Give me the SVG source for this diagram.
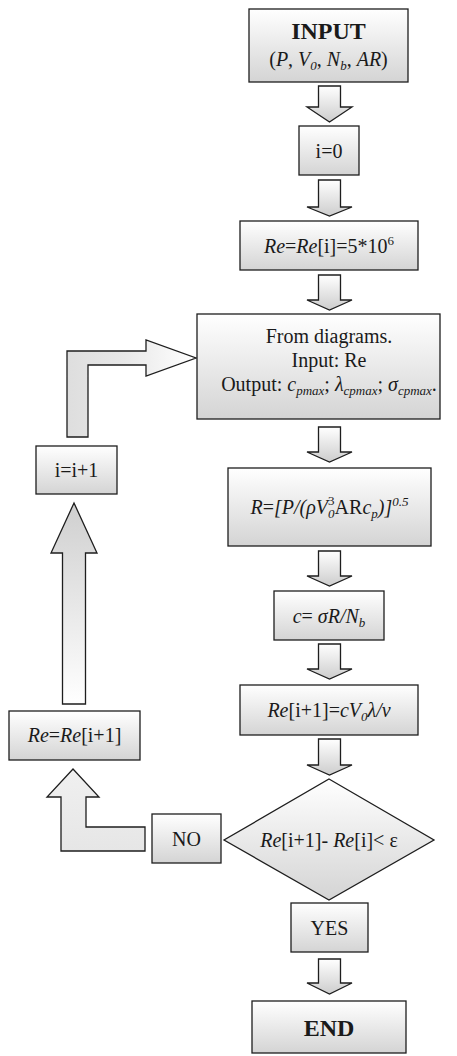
<svg xmlns="http://www.w3.org/2000/svg" width="457" height="1056" viewBox="0 0 457 1056">
  <defs>
    <linearGradient id="gBox" x1="0" y1="0" x2="0" y2="1">
      <stop offset="0" stop-color="#ffffff"/>
      <stop offset="1" stop-color="#d4d4d4"/>
    </linearGradient>
    <linearGradient id="gDown" x1="0" y1="0" x2="0" y2="1">
      <stop offset="0" stop-color="#ffffff"/>
      <stop offset="1" stop-color="#cdcdcd"/>
    </linearGradient>
    <linearGradient id="gUp" x1="0" y1="0" x2="0" y2="1">
      <stop offset="0" stop-color="#cfcfcf"/>
      <stop offset="1" stop-color="#ffffff"/>
    </linearGradient>
    <linearGradient id="gRight" x1="0" y1="0" x2="1" y2="0">
      <stop offset="0" stop-color="#dedede"/>
      <stop offset="0.45" stop-color="#e8e8e8"/>
      <stop offset="1" stop-color="#ffffff"/>
    </linearGradient>
    <linearGradient id="gBent" x1="0" y1="0" x2="0" y2="1">
      <stop offset="0" stop-color="#f0f0f0"/>
      <stop offset="1" stop-color="#e6e6e6"/>
    </linearGradient>
  </defs>
  <style>
    .box { fill: url(#gBox); stroke: #1e1e1e; stroke-width: 1.3; }
    .arw { stroke: #1e1e1e; stroke-width: 1.3; stroke-linejoin: miter; }
    .down { fill: url(#gDown); }
    .t { font-family: "Liberation Serif", "Times New Roman", serif; font-size: 20px; fill: #1a1a1a; text-anchor: middle; }
    .b { font-weight: bold; font-size: 24px; }
    .i { font-style: italic; }
    .s { font-size: 13px; }
  </style>

  <!-- connectors: block arrows -->
  <g id="connectors">
    <path class="arw down" d="M318.5,86 H340.5 V107 H352 L329.5,122 L307,107 H318.5 Z"/>
    <path class="arw down" d="M318.5,180 H340.5 V207 H352 L329.5,216 L307,207 H318.5 Z"/>
    <path class="arw down" d="M318.5,275 H340.5 V300 H352 L329.5,310 L307,300 H318.5 Z"/>
    <path class="arw down" d="M318.5,427 H340.5 V452 H352 L329.5,462 L307,452 H318.5 Z"/>
    <path class="arw down" d="M318.5,551 H340.5 V576 H352 L329.5,586 L307,576 H318.5 Z"/>
    <path class="arw down" d="M318.5,644 H340.5 V669 H352 L329.5,679 L307,669 H318.5 Z"/>
    <path class="arw down" d="M318.5,739 H340.5 V765 H352 L329.5,775 L307,765 H318.5 Z"/>
    <path class="arw down" d="M318.5,959 H340.5 V983 H352 L329.5,994 L307,983 H318.5 Z"/>
    <!-- loop back into the diagram lookup -->
    <path class="arw" fill="url(#gRight)" d="M67,437 V351 H146 V340 L196,358 L146,376 V365 H88 V437 Z"/>
    <!-- up to i=i+1 -->
    <path class="arw" fill="url(#gUp)" d="M74,503 L97,553 H85.5 V704 H62.5 V553 H51 Z"/>
    <!-- NO branch -->
    <path class="arw" fill="url(#gBent)" d="M73,769 L99,797 H86 V827 H145 V851 H61 V797 H47 Z"/>
  </g>

  <g id="input">
    <rect class="box" x="249" y="9" width="159" height="73"/>
    <text class="t b" x="328.5" y="39">INPUT</text>
    <text class="t" x="328.5" y="66">(<tspan class="i">P</tspan>, <tspan class="i">V</tspan><tspan class="i s" dy="4">0</tspan><tspan dy="-4">, </tspan><tspan class="i">N</tspan><tspan class="i s" dy="4">b</tspan><tspan dy="-4">, </tspan><tspan class="i">AR</tspan>)</text>
  </g>

  <g id="init">
    <rect class="box" x="299" y="126" width="60" height="49"/>
    <text class="t" x="329" y="158">i=0</text>
  </g>

  <g id="re-start">
    <rect class="box" x="240" y="221" width="178" height="49"/>
    <text class="t" x="329" y="253"><tspan class="i">Re</tspan>=<tspan class="i">Re</tspan>[i]=5*10<tspan class="s" dy="-8">6</tspan></text>
  </g>

  <g id="lookup">
    <rect class="box" x="197" y="314" width="243" height="105"/>
    <text class="t" x="329" y="343">From diagrams.</text>
    <text class="t" x="329" y="367">Input: Re</text>
    <text class="t" x="329" y="391">Output: <tspan class="i">c</tspan><tspan class="i s" dy="4">pmax</tspan><tspan dy="-4">; </tspan><tspan class="i">λ</tspan><tspan class="i s" dy="4">cpmax</tspan><tspan dy="-4">; </tspan><tspan class="i">σ</tspan><tspan class="i s" dy="4">cpmax</tspan><tspan dy="-4">.</tspan></text>
  </g>

  <g id="radius">
    <rect class="box" x="228" y="468" width="203" height="78"/>
    <text class="t" x="329.5" y="514"><tspan class="i">R</tspan>=<tspan class="i">[P/(ρV</tspan><tspan class="i s" dy="4">0</tspan><tspan class="s" dx="-6.5" dy="-13">3</tspan><tspan dy="9">AR</tspan><tspan class="i">c</tspan><tspan class="i s" dy="4">p</tspan><tspan class="i" dy="-4">)]</tspan><tspan class="i s" dy="-8">0.5</tspan></text>
  </g>

  <g id="chord">
    <rect class="box" x="274" y="591" width="110" height="49"/>
    <text class="t" x="329" y="623"><tspan class="i">c</tspan>= <tspan class="i">σR/N</tspan><tspan class="i s" dy="4">b</tspan></text>
  </g>

  <g id="re-next">
    <rect class="box" x="240" y="685" width="178" height="50"/>
    <text class="t" x="329" y="717"><tspan class="i">Re</tspan>[i+1]=<tspan class="i">cV</tspan><tspan class="i s" dy="4">0</tspan><tspan class="i" dy="-4">λ/ν</tspan></text>
  </g>

  <g id="check">
    <polygon class="box" points="329,779 434,840 329,900 224,840"/>
    <text class="t" x="329" y="847"><tspan class="i">Re</tspan>[i+1]- <tspan class="i">Re</tspan>[i]&lt; ε</text>
  </g>

  <g id="yes">
    <rect class="box" x="291" y="903" width="77" height="49"/>
    <text class="t" x="329.5" y="935">YES</text>
  </g>

  <g id="end">
    <rect class="box" x="252" y="1001" width="154" height="52"/>
    <text class="t b" x="329" y="1036">END</text>
  </g>

  <g id="no">
    <rect class="box" x="152" y="814" width="69" height="49"/>
    <text class="t" x="186.5" y="846">NO</text>
  </g>

  <g id="re-update">
    <rect class="box" x="9" y="711" width="131" height="49"/>
    <text class="t" x="74.5" y="742"><tspan class="i">Re</tspan>=<tspan class="i">Re</tspan>[i+1]</text>
  </g>

  <g id="increment">
    <rect class="box" x="36" y="446" width="81" height="48"/>
    <text class="t" x="76.5" y="477">i=i+1</text>
  </g>
</svg>
